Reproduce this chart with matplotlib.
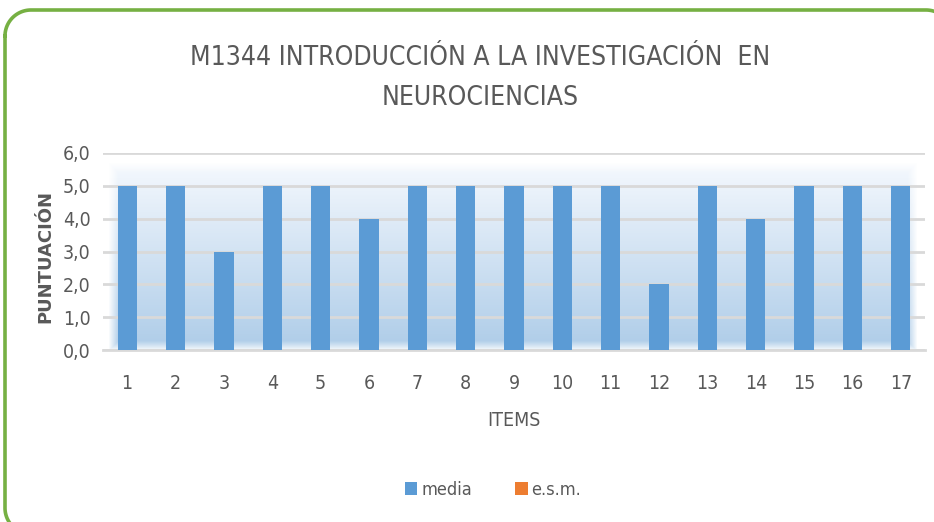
import numpy as np
import matplotlib
matplotlib.use("Agg")
import matplotlib.pyplot as plt
from matplotlib import font_manager as fm

# datos
items = [str(i) for i in range(1, 18)]
media = [5, 5, 3, 5, 5, 4, 5, 5, 5, 5, 5, 2, 5, 4, 5, 5, 5]
esm = [0] * 17
yticks = [0, 1, 2, 3, 4, 5, 6]
ytick_labels = ["0,0", "1,0", "2,0", "3,0", "4,0", "5,0", "6,0"]

# buscar una fuente estrecha (tipo Calibri); si no hay, Liberation Sans
cond = [f for f in fm.fontManager.ttflist
        if (f.stretch in ("condensed", "semi-condensed") or "Narrow" in f.name or "Condensed" in f.name)
        and f.style == "normal" and f.weight in (400, "normal", "regular")]
if cond:
    fp_file = cond[0].fname
    def nf(size):
        return fm.FontProperties(fname=fp_file, size=size)
    scale = 1.0
else:
    def nf(size):
        return fm.FontProperties(family="Liberation Sans", size=size)
    scale = 0.85

gray = "#595959"

W, H = 934, 522
fig = plt.figure(figsize=(W / 100, H / 100), dpi=100)

# borde verde redondeado (en pixeles), como polilinea
bg = fig.add_axes([0, 0, 1, 1])
bg.set_xlim(0, W)
bg.set_ylim(H, 0)
bg.axis("off")
bx0, by0, bx1, by1, r = 5, 10, 952, 534, 26
pts = []
for cx, cy, a0 in [(bx0 + r, by0 + r, 180), (bx1 - r, by0 + r, 270),
                   (bx1 - r, by1 - r, 0), (bx0 + r, by1 - r, 90)]:
    a = np.radians(np.linspace(a0, a0 + 90, 30))
    pts.append(np.column_stack([cx + r * np.cos(a), cy + r * np.sin(a)]))
pts = np.vstack(pts + [pts[0][:1]])
bg.plot(pts[:, 0], pts[:, 1], color="#76b043", linewidth=2.6, solid_joinstyle="round")

# ejes principales
x0, x1 = 103, 925
ytop, ybot = 153, 350
ax = fig.add_axes([x0 / W, (H - ybot) / H, (x1 - x0) / W, (ybot - ytop) / H])
ax.set_xlim(-0.5, 16.5)
ax.set_ylim(0, 6)
ax.patch.set_alpha(0)

# degradado azul detras de las barras
gh, gw = 185, 810
t = np.linspace(0, 1, gh)[:, None, None]
top_c = np.array([0.96, 0.975, 0.995])
bot_c = np.array([0.68, 0.80, 0.91])
rgb = top_c + (bot_c - top_c) * t * np.ones((1, gw, 1))
yy, xx = np.mgrid[0:gh, 0:gw]
d = np.minimum.reduce([yy, gh - 1 - yy, xx, gw - 1 - xx]).astype(float)
alpha = np.clip(d / 10.0, 0, 1)
img = np.dstack([rgb, alpha])
ax.imshow(img, extent=(-0.4, 16.35, -0.05, 5.7), aspect="auto", zorder=0.2, interpolation="bilinear")

xs = np.arange(len(items))
ax.set_axisbelow(True)
ax.yaxis.grid(True, color="#d9d9d9", linewidth=2)
ax.bar(xs, media, width=0.4, color="#5b9bd5", zorder=2, label="media")
ax.bar(xs, esm, width=0.0, color="#ed7d31", zorder=2, label="e.s.m.")

for s in ["top", "right", "left"]:
    ax.spines[s].set_visible(False)
ax.spines["bottom"].set_color("#d9d9d9")
ax.spines["bottom"].set_linewidth(2)
ax.spines["bottom"].set_zorder(1)

ax.set_xticks(xs)
ax.set_xticklabels(items, color=gray)
ax.set_yticks(yticks)
ax.set_yticklabels(ytick_labels, color=gray)
for lab in ax.get_xticklabels() + ax.get_yticklabels():
    lab.set_fontproperties(nf(14 * scale))
ax.tick_params(length=0)
ax.tick_params(axis="x", pad=17)
ax.tick_params(axis="y", pad=9)

# textos
fig.text(480 / W, 1 - 58 / H, "M1344 INTRODUCCIÓN A LA INVESTIGACIÓN  EN",
         fontproperties=nf(19 * scale), color=gray, ha="center", va="center")
fig.text(480 / W, 1 - 98 / H, "NEUROCIENCIAS",
         fontproperties=nf(19 * scale), color=gray, ha="center", va="center")
fig.text(514 / W, 1 - 420 / H, "ITEMS", fontproperties=nf(14 * scale), color=gray,
         ha="center", va="center")
fig.text(45 / W, 1 - 257 / H, "PUNTUACIÓN", family="DejaVu Sans",
         fontweight="bold", fontsize=13, color=gray, rotation=90, ha="center", va="center")

fig.legend(loc="center", bbox_to_anchor=(493 / W, 1 - 490 / H), ncol=2, frameon=False,
           prop=nf(13 * scale), labelcolor=gray, handlelength=0.7,
           handleheight=0.7, handletextpad=0.2, columnspacing=2.4)

fig.savefig("out.png", dpi=100)
